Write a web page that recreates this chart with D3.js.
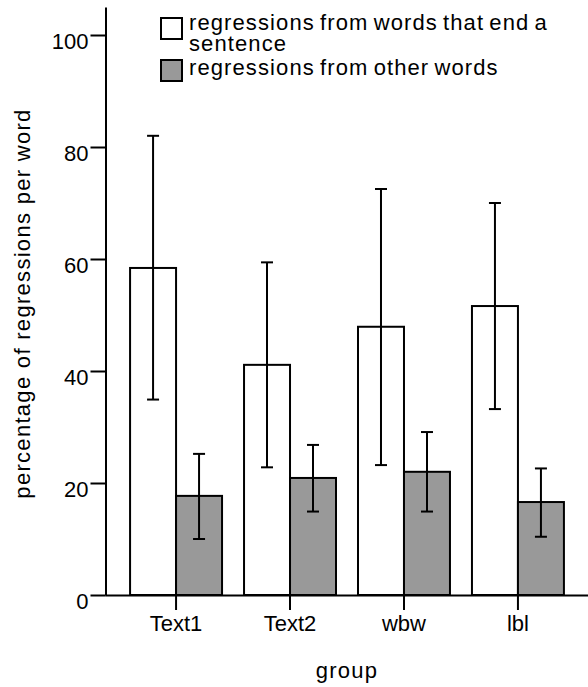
<!DOCTYPE html>
<html>
<head>
<meta charset="utf-8">
<script src="https://cdn.jsdelivr.net/npm/d3@7"></script>
<style>
  html, body { margin: 0; padding: 0; background: #fff; }
  svg { display: block; }
  text { font-family: "Liberation Sans", Arial, sans-serif; fill: #000; }
</style>
</head>
<body>
<div id="chart"></div>
<script>
// Groups along the x axis
const groups = ["Text1", "Text2", "wbw", "lbl"];

// Series (legend order)
const seriesKeys = ["sentenceEnd", "other"];
const seriesLabels = [
  ["regressions from words that end a", "sentence"],
  ["regressions from other words"]
];
const seriesFills = ["#ffffff", "#999999"];

// Mean percentage of regressions per word, with error bar limits
const sentenceEndMeans = [58.4, 41.1, 47.9, 51.6];
const sentenceEndLower = [34.9, 22.8, 23.2, 33.2];
const sentenceEndUpper = [82.0, 59.4, 72.5, 70.0];

const otherMeans = [17.7, 20.9, 22.0, 16.6];
const otherLower = [10.0, 14.9, 14.9, 10.4];
const otherUpper = [25.2, 26.8, 29.1, 22.6];

const yTicks = [0, 20, 40, 60, 80, 100];
const yMax = 105;

const xTitle = "group";
const yTitle = "percentage of regressions per word";

// Table built from the arrays above
const rows = [];
groups.forEach((g, i) => {
  rows.push({ group: g, key: "sentenceEnd", mean: sentenceEndMeans[i], lo: sentenceEndLower[i], hi: sentenceEndUpper[i] });
  rows.push({ group: g, key: "other", mean: otherMeans[i], lo: otherLower[i], hi: otherUpper[i] });
});

const W = 588, H = 687;
const FS = 22;
const svg = d3.select("#chart").append("svg").attr("width", W).attr("height", H);

const x = d3.scaleBand().domain(groups).range([105, 589]).paddingInner(0.193).paddingOuter(0.22);
const xSub = d3.scaleBand().domain(seriesKeys).range([0, x.bandwidth()]);
const y = d3.scaleLinear().domain([0, yMax]).range([595, 7]);
const fill = d3.scaleOrdinal().domain(seriesKeys).range(seriesFills);

// Bars
svg.append("g").selectAll("rect").data(rows).join("rect")
  .attr("x", d => x(d.group) + xSub(d.key))
  .attr("y", d => y(d.mean))
  .attr("width", xSub.bandwidth())
  .attr("height", d => y(0) - y(d.mean))
  .attr("fill", d => fill(d.key))
  .attr("stroke", "#000")
  .attr("stroke-width", 2);

// Error bars
const capW = 12;
const eb = svg.append("g").attr("stroke", "#000").attr("stroke-width", 2).attr("fill", "none");
const cx = d => x(d.group) + xSub(d.key) + xSub.bandwidth() / 2;
eb.selectAll("line.v").data(rows).join("line").attr("class", "v")
  .attr("x1", cx).attr("x2", cx)
  .attr("y1", d => y(d.lo)).attr("y2", d => y(d.hi));
eb.selectAll("line.top").data(rows).join("line").attr("class", "top")
  .attr("x1", d => cx(d) - capW / 2).attr("x2", d => cx(d) + capW / 2)
  .attr("y1", d => y(d.hi)).attr("y2", d => y(d.hi));
eb.selectAll("line.bot").data(rows).join("line").attr("class", "bot")
  .attr("x1", d => cx(d) - capW / 2).attr("x2", d => cx(d) + capW / 2)
  .attr("y1", d => y(d.lo)).attr("y2", d => y(d.lo));

// Y axis
const yAxis = svg.append("g").attr("transform", "translate(105.5,0)")
  .call(d3.axisLeft(y).tickValues(yTicks).tickSize(15).tickSizeOuter(0).tickPadding(2).tickFormat(d3.format("d")));
yAxis.select(".domain").attr("stroke", "#000").attr("stroke-width", 2);
yAxis.selectAll(".tick line").attr("stroke", "#000").attr("stroke-width", 2);
yAxis.selectAll(".tick text").attr("font-size", FS).attr("dy", "0.6em")
  .style("font-family", "'Liberation Sans', Arial, sans-serif");

// X axis
const xAxis = svg.append("g").attr("transform", `translate(0,${y(0)})`)
  .call(d3.axisBottom(x).tickSize(15).tickSizeOuter(0).tickPadding(5));
xAxis.select(".domain").attr("stroke", "#000").attr("stroke-width", 2);
xAxis.selectAll(".tick line").attr("stroke", "#000").attr("stroke-width", 2);
xAxis.selectAll(".tick text").attr("font-size", FS)
  .style("font-family", "'Liberation Sans', Arial, sans-serif");

// Axis titles
svg.append("text")
  .attr("x", 347).attr("y", 678)
  .attr("text-anchor", "middle").attr("font-size", FS).attr("letter-spacing", 1.2)
  .text(xTitle);

svg.append("text")
  .attr("transform", "translate(30,303.5) rotate(-90)")
  .attr("text-anchor", "middle").attr("font-size", FS).attr("letter-spacing", 1.3)
  .text(yTitle);

// Legend
const legend = svg.append("g");
const legendRows = [{ key: "sentenceEnd", top: 18, base: 29.5, lines: seriesLabels[0] },
                    { key: "other", top: 60, base: 75, lines: seriesLabels[1] }];
legendRows.forEach(r => {
  legend.append("rect")
    .attr("x", 161).attr("y", r.top).attr("width", 21).attr("height", 21)
    .attr("fill", fill(r.key)).attr("stroke", "#000").attr("stroke-width", 2);
  const t = legend.append("text").attr("font-size", FS)
    .attr("letter-spacing", 1.1).attr("word-spacing", -2);
  r.lines.forEach((ln, i) => {
    t.append("tspan").attr("x", 189).attr("y", r.base + i * 21.3).text(ln);
  });
});
</script>
</body>
</html>
